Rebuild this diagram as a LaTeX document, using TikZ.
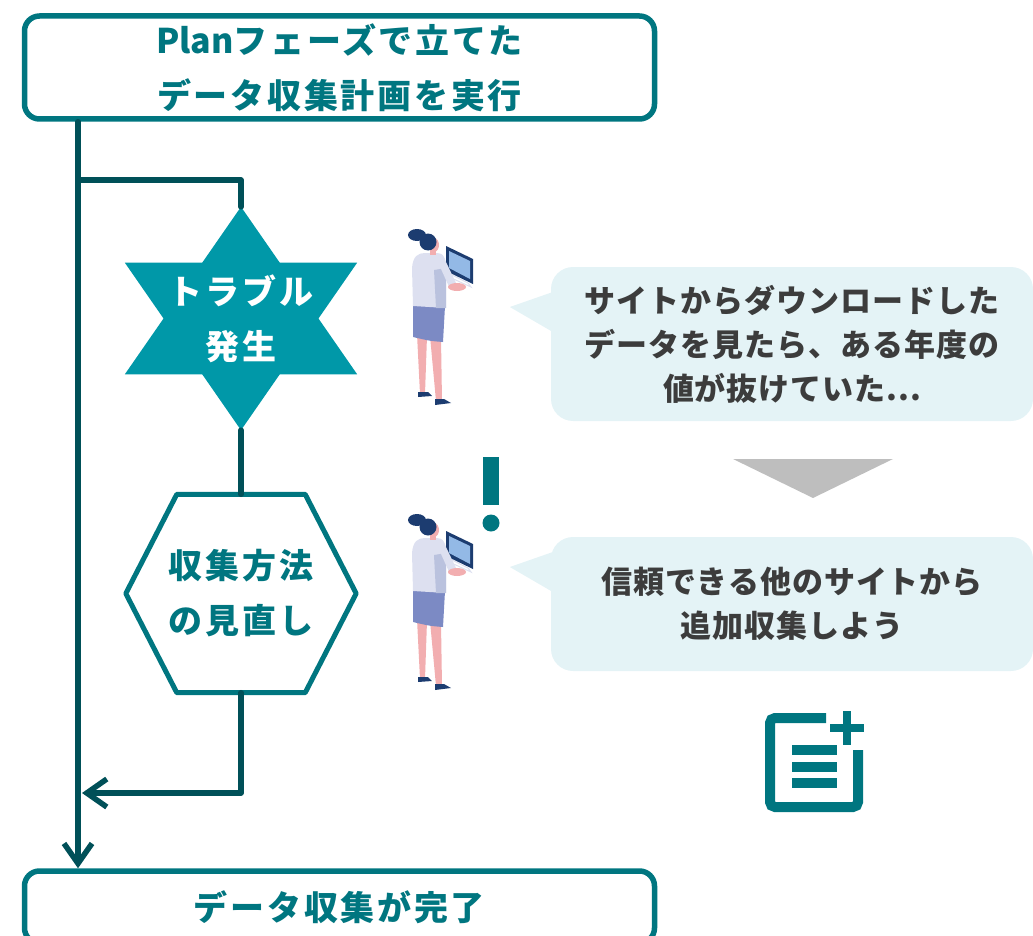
\documentclass[tikz,border=0pt]{standalone}
\usepackage{fontspec}
\newfontfamily\jp{Noto Sans CJK JP}[LetterSpace=8]
\newfontfamily\jptalk{Noto Sans CJK JP}[LetterSpace=3]
\usetikzlibrary{calc,positioning,arrows.meta,backgrounds}
\definecolor{flowteal}{RGB}{0,118,128}
\definecolor{flowdark}{RGB}{0,80,88}
\definecolor{starteal}{RGB}{0,152,168}
\definecolor{bubblebg}{RGB}{228,243,246}
\definecolor{talkgray}{RGB}{60,60,60}
\definecolor{hintgray}{RGB}{190,190,190}
\definecolor{hairnavy}{RGB}{28,60,112}
\definecolor{shirtlav}{RGB}{221,224,240}
\definecolor{shirtshade}{RGB}{186,194,222}
\definecolor{skirtblue}{RGB}{124,138,196}
\definecolor{skinpink}{RGB}{242,174,176}
\definecolor{screenblue}{RGB}{147,185,230}
\tikzset{
  line/.style={draw=flowdark, line width=5.5pt, line cap=round, line join=round},
  flow/.style={line, -{Straight Barb[length=20pt, width=28pt]}},
  label/.style={font=\jp\bfseries\fontsize{34}{55}\selectfont, align=center},
  termbox/.style={label, draw=flowteal, line width=5.5pt, rounded corners=15pt,
    fill=white, text=flowteal, minimum width=630pt},
  bubble/.style={fill=bubblebg, rounded corners=22pt, minimum width=482pt,
    align=center, text=talkgray, font=\jptalk\bfseries\fontsize{31}{44}\selectfont},
  woman/.pic={
    % legs and shoes
    \fill[skinpink] (7,106) -- (17,108) -- (15,166) -- (10,166) -- cycle;
    \fill[skinpink] (20,108) -- (31,110) -- (32,173) -- (26,173) -- cycle;
    \fill[hairnavy] (8,164) -- (18,164) -- (22,168) -- (8,169) -- cycle;
    \fill[hairnavy] (25,171) -- (34,171) -- (41,175) -- (25,177) -- cycle;
    % skirt
    \fill[skirtblue] (3,76) -- (35,78) -- (33,114) .. controls (20,113) .. (3,109) -- cycle;
    % shirt
    \fill[shirtlav] (3,78) -- (2,40) .. controls (3,28) and (8,25) .. (15,25)
      -- (27,25) .. controls (33,26) .. (36,34) -- (36,80) -- cycle;
    \fill[shirtshade] (24,42) -- (36,40) -- (36,80) -- (26,80) -- cycle;
    % head
    \fill[skinpink] (20,20) rectangle (26,27);
    \fill[skinpink] (24,17) ellipse (5 and 7);
    \fill[hairnavy] (18,14) circle (8.5);
    \fill[hairnavy] (7,7) ellipse (9 and 6);
    % laptop
    \fill[white] (34,43) -- (58,55) -- (61,59) -- (37,48) -- cycle;
    \draw[shirtlav, line width=1pt] (34,43) -- (58,55) -- (61,59) -- (37,48) -- cycle;
    \fill[hairnavy] (36,18) -- (63,31) -- (63,56) -- (36,43) -- cycle;
    \fill[screenblue] (39,23) -- (60,33) -- (60,51) -- (39,40) -- cycle;
    % arm and hand
    \fill[shirtlav] (27,32) -- (36,34) -- (46,55) -- (40,61) -- cycle;
    \fill[skinpink] (47,59) ellipse (9 and 4);
  }
}
\begin{document}
\begin{tikzpicture}[x=1pt, y=-1pt]
  \useasboundingbox (0,0) rectangle (1033,936);

  % terminal boxes
  \node[termbox, minimum height=103pt] (start) at (339.5,67.5)
    {{\addfontfeature{LetterSpace=0}Plan}フェーズで立てた\\データ収集計画を実行};
  \node[termbox, minimum height=72pt] (done) at (339.5,907)
    {データ収集が完了};

  % trouble star
  \node[label, text=white, minimum width=232pt, minimum height=223pt] (trouble)
    at (241,318.5) {トラブル\\発生};
  % revise hexagon
  \node[label, text=flowteal, minimum width=230pt, minimum height=198pt] (revise)
    at (241,593.5) {収集方法\\の見直し};

  \begin{scope}[on background layer]
    \fill[starteal] (trouble.north)
      -- ($(trouble.north west)!.75!(trouble.south west)$)
      -- ($(trouble.north east)!.75!(trouble.south east)$) -- cycle;
    \fill[starteal] (trouble.south)
      -- ($(trouble.north west)!.25!(trouble.south west)$)
      -- ($(trouble.north east)!.25!(trouble.south east)$) -- cycle;
    \draw[draw=flowteal, fill=white, line width=5pt, line join=round]
      ($(revise.north west)+(51,0)$) -- ($(revise.north east)+(-51,0)$)
      -- (revise.east) -- ($(revise.south east)+(-51,0)$)
      -- ($(revise.south west)+(51,0)$) -- (revise.west) -- cycle;
  \end{scope}

  % connectors
  \coordinate (split) at (78,180);
  \coordinate (merge) at (82,793);
  \draw[line] (split) -| (trouble.north);
  \draw[line] (trouble.south) -- (revise.north);
  \draw[flow] (revise.south) |- (merge);
  \draw[flow] (start.south -| split) -- (done.north -| split);

  % speech bubbles
  \node[bubble, minimum height=154pt] (msgA) at (792,344)
    {サイトからダウンロードした\\データを見たら、ある年度の\\値が抜けていた...};
  \fill[bubblebg] ($(msgA.west)+(2,-52)$) -- ($(msgA.west)+(-41,-37)$)
    -- ($(msgA.west)+(2,-12)$) -- cycle;
  \node[bubble, minimum height=134pt] (msgB) at (792,604)
    {信頼できる他のサイトから\\追加収集しよう};
  \fill[bubblebg] ($(msgB.west)+(2,-52)$) -- ($(msgB.west)+(-41,-37)$)
    -- ($(msgB.west)+(2,-12)$) -- cycle;
  \fill[hintgray] (733,459) -- (893,459) -- (813,498) -- cycle;

  % people
  \pic at (410,228) {woman};
  \pic at (410,513) {woman};
  \fill[flowteal] (483,457) rectangle (499,505);
  \fill[flowteal] (491,523) circle (8.5);

  % add-note icon
  \draw[flowteal, line width=10pt, rounded corners=5pt]
    (826,718) -- (770,718) -- (770,807) -- (858,807) -- (858,750);
  \draw[flowteal, line width=8pt] (847,711) -- (847,745) (830,728) -- (864,728);
  \foreach \y in {750,767,783}
    \draw[flowteal, line width=10pt] (792,\y) -- (837,\y);
\end{tikzpicture}
\end{document}
